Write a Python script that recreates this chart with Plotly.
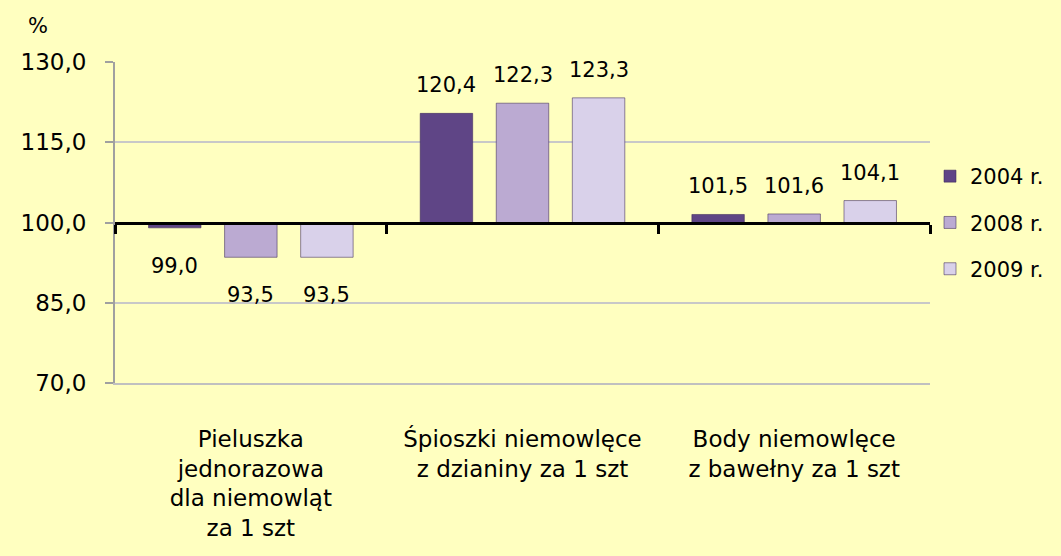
import plotly.graph_objects as go

categories = ["Pieluszka<br>jednorazowa<br>dla niemowląt<br>za 1 szt",
              "Śpioszki niemowlęce<br>z dzianiny za 1 szt",
              "Body niemowlęce<br>z bawełny za 1 szt"]
series_names = ["2004 r.", "2008 r.", "2009 r."]
values_2004 = [99.0, 120.4, 101.5]
values_2008 = [93.5, 122.3, 101.6]
values_2009 = [93.5, 123.3, 104.1]
colors = ["#5F4586", "#BBAAD2", "#D9D1EA"]
y_ticks = [70, 85, 100, 115, 130]
y_tick_labels = ["70,0", "85,0", "100,0", "115,0", "130,0"]
base_value = 100

FONT = "DejaVu Sans"
BARGAP = 0.16
fig = go.Figure()
annotations = []
all_values = [values_2004, values_2008, values_2009]
n = len(all_values)
slot = (1 - BARGAP) / n
for j, (name, vals, col) in enumerate(zip(series_names, all_values, colors)):
    fig.add_trace(go.Bar(
        x=categories, y=[v - base_value for v in vals], base=base_value,
        name=name, marker=dict(color=col, line=dict(color="rgba(60,40,90,0.55)", width=1)),
        legendgroup=name,
    ))
    for i, v in enumerate(vals):
        annotations.append(dict(
            x=i + (j - (n - 1) / 2) * slot, y=v, xref="x", yref="y",
            text=f"{v:.1f}".replace(".", ","), showarrow=False,
            xanchor="center", yanchor="middle",
            yshift=28 if v >= base_value else -38,
            font=dict(size=21, family=FONT, color="black")))

# invisible trace for the baseline axis at 100
fig.add_trace(go.Scatter(x=categories, y=[base_value]*3, xaxis="x2", mode="markers",
                         marker=dict(opacity=0), showlegend=False, hoverinfo="skip"))

annotations.append(dict(text="%", xref="paper", yref="paper", x=-0.095, y=1.0,
                        xanchor="center", yanchor="bottom", showarrow=False,
                        font=dict(size=21, family=FONT), yshift=22))

fig.update_layout(
    width=1061, height=556,
    paper_bgcolor="#FFFFC0", plot_bgcolor="#FFFFC0",
    margin=dict(l=115, r=126, t=62, b=173),
    barmode="group", bargap=BARGAP, bargroupgap=0.31,
    font=dict(family=FONT, size=21, color="black"),
    xaxis=dict(type="category", showline=True, linecolor="#C0C0C0", linewidth=2,
               ticks="", showgrid=False, tickfont=dict(size=23, family=FONT),
               ticklabelstandoff=34),
    xaxis2=dict(type="category", overlaying="x", matches="x", anchor="free", position=0.5,
                showline=True, linecolor="black", linewidth=3, ticks="outside",
                tickson="boundaries", ticklen=9, tickwidth=3, tickcolor="black",
                showticklabels=False, showgrid=False, side="bottom"),
    yaxis=dict(range=[70, 130], tickvals=y_ticks, ticktext=y_tick_labels,
               showgrid=True, gridcolor="#C8C8C8", gridwidth=2,
               showline=True, linecolor="#A0A0A0", linewidth=2,
               ticks="outside", ticklen=8, tickcolor="#A0A0A0", tickwidth=2,
               ticklabelstandoff=14,
               zeroline=False, tickfont=dict(size=23, family=FONT)),
    legend=dict(x=1.0, xanchor="left", y=0.5, yanchor="middle",
                bgcolor="rgba(0,0,0,0)", font=dict(size=21, family=FONT),
                tracegroupgap=16, traceorder="grouped"),
    showlegend=True,
    annotations=annotations,
)
fig.write_html("out.html", config={"displayModeBar": False},
               post_script="document.body.style.margin='0';document.body.style.padding='0';")
